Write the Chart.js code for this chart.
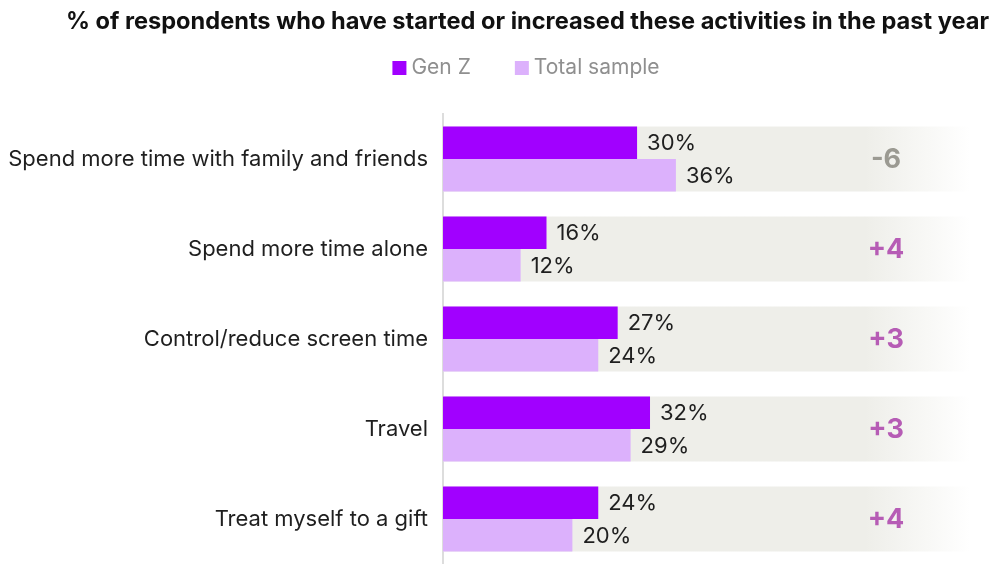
<!DOCTYPE html>
<html>
<head>
<meta charset="utf-8">
<script src="https://cdn.jsdelivr.net/npm/chart.js@4.4.1/dist/chart.umd.min.js"></script>
<style>
html,body{margin:0;padding:0;background:#fff;}
#wrap{width:994px;height:564px;position:relative;}
</style>
</head>
<body>
<div id="wrap"><canvas id="c" width="994" height="564"></canvas></div>
<script>
const categories = [
  "Spend more time with family and friends",
  "Spend more time alone",
  "Control/reduce screen time",
  "Travel",
  "Treat myself to a gift"
];
const genZ = [30, 16, 27, 32, 24];
const totalSample = [36, 12, 24, 29, 20];
const seriesNames = ["Gen Z", "Total sample"];
const titleText = "% of respondents who have started or increased these activities in the past year";

const FONT = "Inter, 'Noto Sans', sans-serif";

const bandPlugin = {
  id: 'bands',
  beforeDatasetsDraw(chart) {
    const ctx = chart.ctx;
    const m0 = chart.getDatasetMeta(0), m1 = chart.getDatasetMeta(1);
    const area = chart.chartArea;
    const fadeStart = area.left + 422, fadeEnd = area.left + 527;
    ctx.save();
    m0.data.forEach((b0, i) => {
      const b1 = m1.data[i];
      const top = b0.y - b0.height / 2;
      const bottom = b1.y + b1.height / 2;
      const g = ctx.createLinearGradient(fadeStart, 0, fadeEnd, 0);
      g.addColorStop(0, '#eeeee9');
      g.addColorStop(1, 'rgba(255,255,255,1)');
      ctx.fillStyle = g;
      ctx.fillRect(area.left, top, fadeEnd - area.left, bottom - top);
    });
    ctx.restore();
  },
  afterDatasetsDraw(chart) {
    const ctx = chart.ctx;
    const area = chart.chartArea;
    ctx.save();
    ctx.textBaseline = 'middle';
    ctx.textAlign = 'left';
    ctx.font = "22px " + FONT;
    ctx.fillStyle = '#1f1f1f';
    chart.data.datasets.forEach((ds, di) => {
      chart.getDatasetMeta(di).data.forEach((b, i) => {
        ctx.fillText(ds.data[i] + '%', b.x + 10, b.y + 1);
      });
    });
    const m0 = chart.getDatasetMeta(0), m1 = chart.getDatasetMeta(1);
    ctx.textAlign = 'center';
    ctx.font = "bold 27px " + FONT;
    m0.data.forEach((b0, i) => {
      const b1 = m1.data[i];
      const d = genZ[i] - totalSample[i];
      const txt = (d > 0 ? '+' : '') + d;
      ctx.fillStyle = d >= 0 ? '#b65cb5' : '#9b9a92';
      ctx.fillText(txt, area.left + 443, (b0.y + b1.y) / 2 + 1);
    });
    ctx.restore();
  },
  afterDraw(chart) {
    // legend drawn from dataset labels & colours
    const ctx = chart.ctx;
    ctx.save();
    ctx.font = "21px " + FONT;
    ctx.textBaseline = 'middle';
    ctx.textAlign = 'left';
    const box = 14, gapText = 5, gapItem = 44, cy = 68;
    const items = chart.data.datasets.map(ds => ({ t: ds.label, c: ds.backgroundColor, w: ctx.measureText(ds.label).width }));
    let total = items.reduce((s, it) => s + box + gapText + it.w, 0) + gapItem * (items.length - 1);
    let x = 526 - total / 2;
    items.forEach(it => {
      ctx.fillStyle = it.c;
      ctx.fillRect(x, cy - box / 2, box, box);
      ctx.fillStyle = '#8f8f8f';
      ctx.fillText(it.t, x + box + gapText, cy);
      x += box + gapText + it.w + gapItem;
    });
    ctx.restore();
  }
};

new Chart(document.getElementById('c'), {
  type: 'bar',
  data: {
    labels: categories,
    datasets: [
      { label: seriesNames[0], data: genZ, backgroundColor: '#a100ff' },
      { label: seriesNames[1], data: totalSample, backgroundColor: '#dcb1fc' }
    ]
  },
  options: {
    indexAxis: 'y',
    responsive: false,
    animation: false,
    layout: { padding: { left: 0, right: 5, top: 0, bottom: 0 } },
    datasets: { bar: { categoryPercentage: 65 / 90, barPercentage: 1, borderWidth: 0 } },
    scales: {
      x: { display: false, min: 0, max: 84.4 },
      y: {
        afterFit(s) { s.width = 443; s.paddingTop = 0; s.paddingBottom = 0; },
        grid: { display: false, drawTicks: false },
        border: { display: true, color: '#dddddd', width: 2 },
        ticks: { color: '#1f1f1f', font: { family: FONT, size: 22 }, padding: 15 }
      }
    },
    plugins: {
      title: {
        display: true,
        text: titleText,
        align: 'end',
        color: '#111',
        font: { family: FONT, size: 23.6, weight: '700', lineHeight: 1.2 },
        padding: { top: 8, bottom: 77.7 }
      },
      legend: { display: false },
      tooltip: { enabled: false }
    }
  },
  plugins: [bandPlugin]
});
</script>
</body>
</html>
